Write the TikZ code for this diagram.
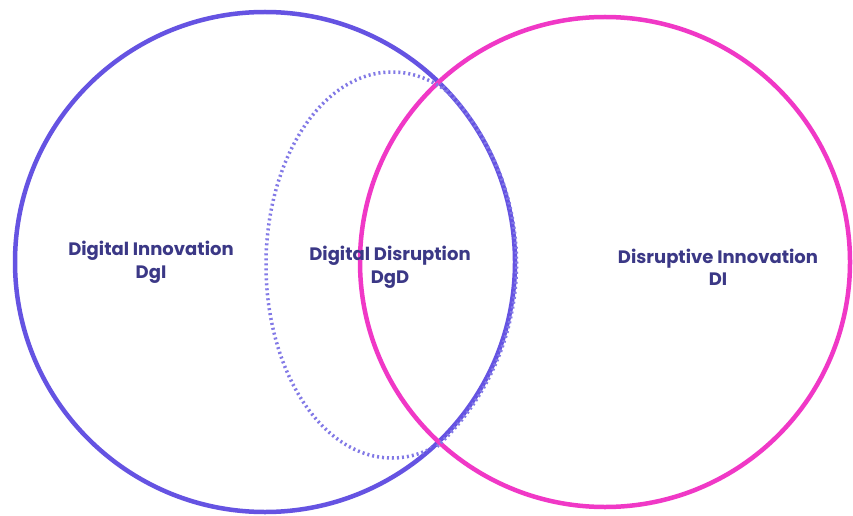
\documentclass[tikz,border=0pt]{standalone}
\usepackage{fontspec}
\usetikzlibrary{shapes.geometric}
\setmainfont{Poppins}
\definecolor{violetline}{HTML}{6553E2}
\definecolor{pinkline}{HTML}{F038C6}
\definecolor{dotline}{HTML}{8279E6}
\definecolor{labeltext}{HTML}{3B3886}
\tikzset{
  lbl/.style={text=labeltext, font=\bfseries\fontsize{18}{22.5}\selectfont, align=center, inner sep=0pt},
  ring/.style={line width=4.5pt},
  dotty/.style={draw=dotline, line width=3.5pt, dash pattern=on 2pt off 3pt}
}
\begin{document}
\begin{tikzpicture}[x=1pt,y=1pt]
\useasboundingbox (0,0) rectangle (853,515);
\fill[white] (0,0) rectangle (853,515);
\node[draw=violetline, ring, circle, minimum size=500pt, inner sep=0pt] (dgi) at (265,253) {};
\node[draw=pinkline, ring, circle, minimum size=490pt, inner sep=0pt] (di) at (605,253) {};
\begin{scope}
  \clip (265,253) circle (249pt);
  \node[dotty, ellipse, minimum width=252pt, minimum height=386pt, inner sep=0pt] (dgd) at (392,250) {};
\end{scope}
\draw[dotty] (dgi.-47) arc[start angle=-47, end angle=46, radius=250pt];
\node[lbl] (t1) at (151,252.5) {Digital Innovation\\DgI};
\node[lbl] (t2) at (390,247.5) {Digital Disruption\\DgD};
\node[lbl] (t3) at (718,247.5) {Disruptive Innovation\\DI};
\end{tikzpicture}
\end{document}
